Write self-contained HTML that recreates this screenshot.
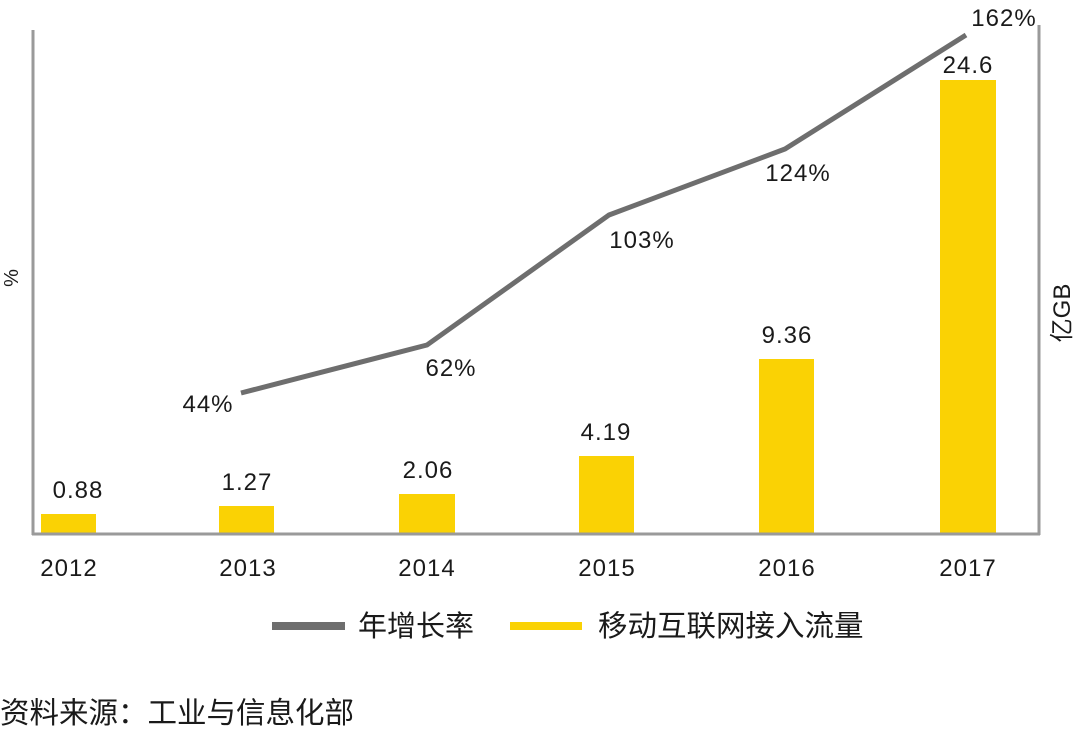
<!DOCTYPE html>
<html><head><meta charset="utf-8"><style>
body{margin:0;background:#fff;width:1079px;height:733px;overflow:hidden}
text{font-family:"Liberation Sans","Noto Sans CJK SC",sans-serif;fill:#1a1a1a}
</style></head><body>
<svg width="1079" height="733" viewBox="0 0 1079 733">
<g fill="#FAD204">
<rect x="41" y="514" width="55" height="21"/>
<rect x="219" y="506" width="55" height="29"/>
<rect x="399" y="494" width="56" height="41"/>
<rect x="579" y="456" width="55" height="79"/>
<rect x="759" y="359" width="55" height="176"/>
<rect x="940" y="80" width="56" height="455"/>
</g>
<g stroke="#9a9a9a" stroke-width="3" fill="none">
<line x1="33" y1="30" x2="33" y2="535"/>
<line x1="32" y1="534" x2="1040" y2="534"/>
<line x1="1039" y1="25" x2="1039" y2="535"/>
</g>
<polyline points="241,393 427,345 609,215 785,149 966,35" fill="none" stroke="#6e6e6e" stroke-width="5"/>
<g font-size="24" text-anchor="middle" letter-spacing="1">
<text x="78" y="498">0.88</text>
<text x="247" y="490">1.27</text>
<text x="428" y="478">2.06</text>
<text x="606" y="440">4.19</text>
<text x="787" y="343">9.36</text>
<text x="968" y="73">24.6</text>
<text x="208" y="412">44%</text>
<text x="451" y="376">62%</text>
<text x="642" y="248">103%</text>
<text x="798" y="181">124%</text>
<text x="1004" y="26">162%</text>
<text x="69" y="576">2012</text>
<text x="248" y="576">2013</text>
<text x="427" y="576">2014</text>
<text x="607" y="576">2015</text>
<text x="787" y="576">2016</text>
<text x="968" y="576">2017</text>
</g>
<text x="0" y="0" font-size="20" transform="translate(18,278) rotate(-90)" text-anchor="middle">%</text>
<text x="0" y="0" font-size="24" transform="translate(1070,313) rotate(-90)" text-anchor="middle">亿GB</text>
<rect x="272" y="622" width="73" height="8" fill="#6e6e6e"/>
<text x="358" y="636" font-size="29">年增长率</text>
<rect x="510" y="622" width="72" height="8" fill="#FAD204"/>
<text x="598" y="636" font-size="29.5">移动互联网接入流量</text>
<text x="0" y="723" font-size="29.5">资料来源：工业与信息化部</text>
</svg>
</body></html>
